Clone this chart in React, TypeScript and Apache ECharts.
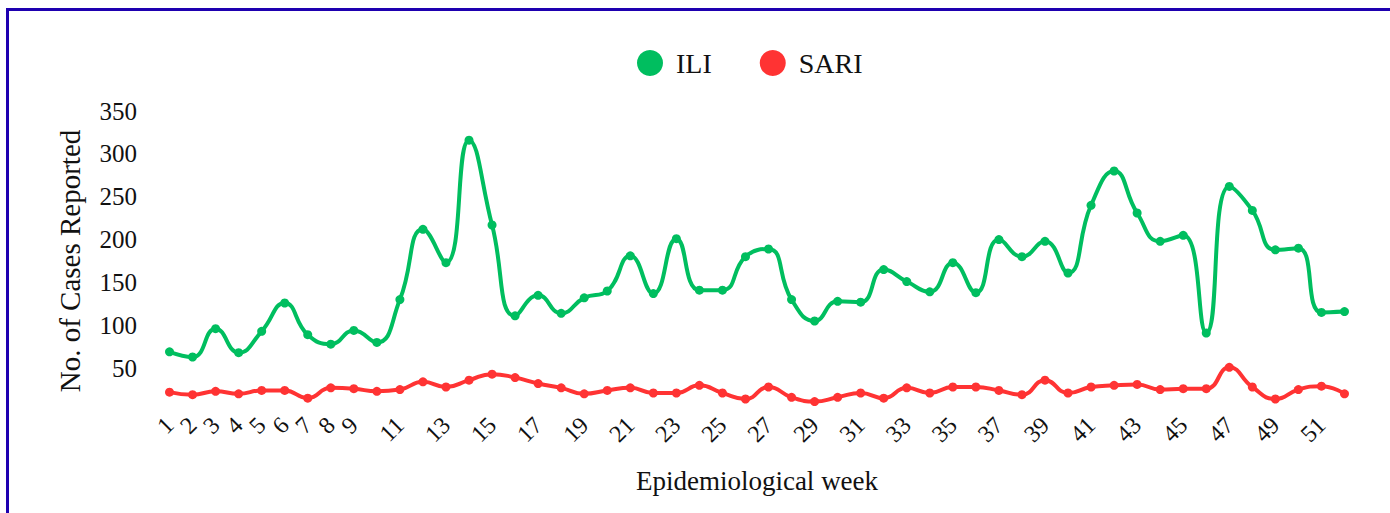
import React, { useEffect, useRef } from "react";
import * as echarts from "echarts";

const weeks: string[] = Array.from({ length: 52 }, (_, i) => String(i + 1));

const iliCases: number[] = [
  69, 63, 96, 68, 93, 126, 89, 78, 94, 80,
  130, 212, 173, 316, 217, 111, 135, 114, 132, 140,
  181, 137, 201, 141, 141, 180, 189, 130, 105, 128,
  127, 165, 151, 139, 173, 138, 200, 180, 198, 161,
  240, 280, 231, 198, 205, 91, 262, 234, 188, 190,
  115, 116,
];

const sariCases: number[] = [
  22, 19, 23, 20, 24, 24, 15, 27, 26, 23,
  25, 34, 28, 36, 43, 39, 32, 27, 20, 24,
  27, 21, 21, 30, 21, 14, 28, 16, 11, 16,
  21, 15, 27, 21, 28, 28, 24, 19, 36, 21,
  28, 30, 31, 25, 26, 26, 51, 28, 14, 25,
  29, 20,
];

const seriesNames = ["ILI", "SARI"];
const seriesColors = ["#00BE5F", "#FF3333"];

const FONT = "'Liberation Serif', 'Times New Roman', serif";

export default function App() {
  const ref = useRef<HTMLDivElement>(null);

  useEffect(() => {
    if (!ref.current) return;
    const chart = echarts.init(ref.current, undefined, { renderer: "svg" });
    chart.setOption({
      animation: false,
      textStyle: { fontFamily: FONT },
      legend: {
        left: 632,
        top: 44,
        icon: "circle",
        itemWidth: 26,
        itemHeight: 26,
        itemGap: 48,
        textStyle: { fontFamily: FONT, fontSize: 28, color: "#111", padding: [0, 0, 0, 8] },
        data: seriesNames,
      },
      grid: { left: 158, right: 34, top: 111, bottom: 102 },
      xAxis: {
        type: "category",
        data: weeks,
        boundaryGap: true,
        name: "Epidemiological week",
        nameLocation: "middle",
        nameGap: 56,
        nameTextStyle: { fontFamily: FONT, fontSize: 27, color: "#111" },
        axisLine: { show: false },
        axisTick: { show: false },
        axisLabel: {
          rotate: 45,
          fontFamily: FONT,
          fontSize: 24,
          color: "#111",
          margin: 10,
          interval: (index: number) => index < 9 || index % 2 === 0,
        },
      },
      yAxis: {
        type: "value",
        min: 0,
        max: 350,
        interval: 50,
        name: "No. of Cases Reported",
        nameLocation: "middle",
        nameGap: 74,
        nameTextStyle: { fontFamily: FONT, fontSize: 29, color: "#111" },
        axisLine: { show: false },
        axisTick: { show: false },
        splitLine: { show: false },
        axisLabel: {
          fontFamily: FONT,
          fontSize: 25,
          color: "#111",
          margin: 21,
          showMinLabel: false,
        },
      },
      series: [
        {
          name: seriesNames[0],
          type: "line",
          data: iliCases,
          smooth: true,
          symbol: "circle",
          symbolSize: 9,
          color: seriesColors[0],
          lineStyle: { width: 4, color: seriesColors[0] },
          itemStyle: { color: seriesColors[0] },
        },
        {
          name: seriesNames[1],
          type: "line",
          data: sariCases,
          smooth: true,
          symbol: "circle",
          symbolSize: 9,
          color: seriesColors[1],
          lineStyle: { width: 4, color: seriesColors[1] },
          itemStyle: { color: seriesColors[1] },
        },
      ],
    });
    return () => chart.dispose();
  }, []);

  return (
    <div style={{ position: "absolute", left: 0, top: 0, width: 1390, height: 513, overflow: "hidden", background: "#fff" }}>
      <div
        style={{
          position: "absolute",
          left: 6,
          top: 8,
          width: 1400,
          height: 520,
          borderLeft: "3px solid #1E00B0",
          borderTop: "3px solid #1E00B0",
          boxSizing: "border-box",
        }}
      />
      <div ref={ref} style={{ position: "absolute", left: 0, top: 0, width: 1390, height: 513 }} />
    </div>
  );
}
